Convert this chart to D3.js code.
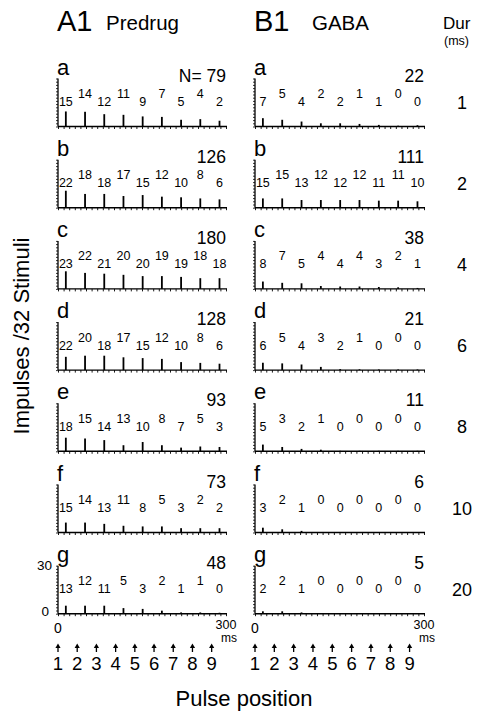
<!DOCTYPE html>
<html>
<head>
<meta charset="utf-8">
<script src="https://cdn.jsdelivr.net/npm/d3@7"></script>
<style>
  body { margin: 0; background: #fff; }
  svg { display: block; font-family: "Liberation Sans", Arial, sans-serif; }
</style>
</head>
<body>
<svg id="fig" width="479" height="715"></svg>
<script>
// chart values
var rowLetters = ["a", "b", "c", "d", "e", "f", "g"];
var durations = [1, 2, 4, 6, 8, 10, 20];
var pulseNumbers = [1, 2, 3, 4, 5, 6, 7, 8, 9];
var pulseInterval = 34.3; // ms between pulses
var latency = 14;         // ms, response peak after pulse

var predrugN = [79, 126, 180, 128, 93, 73, 48];
var gabaN = [22, 111, 38, 21, 11, 6, 5];

var predrugCounts = [
    [15, 14, 12, 11, 9, 7, 5, 4, 2],
    [22, 18, 18, 17, 15, 12, 10, 8, 6],
    [23, 22, 21, 20, 20, 19, 19, 18, 18],
    [22, 20, 18, 17, 15, 12, 10, 8, 6],
    [18, 15, 14, 13, 10, 8, 7, 5, 3],
    [15, 14, 13, 11, 8, 5, 3, 2, 2],
    [13, 12, 11, 5, 3, 2, 1, 1, 0]
];
var gabaCounts = [
    [7, 5, 4, 2, 2, 1, 1, 0, 0],
    [15, 15, 13, 12, 12, 12, 11, 11, 10],
    [8, 7, 5, 4, 4, 4, 3, 2, 1],
    [6, 5, 4, 3, 2, 1, 0, 0, 0],
    [5, 3, 2, 1, 0, 0, 0, 0, 0],
    [3, 2, 1, 0, 0, 0, 0, 0, 0],
    [2, 2, 1, 0, 0, 0, 0, 0, 0]
];

// peak bin height (impulses) of each PSTH response
var predrugPeaks = [
    [9.4, 9.2, 7.7, 7.3, 6.3, 6, 4.2, 4.6, 3.6],
    [10.6, 8.6, 8.6, 7.3, 7.9, 6.9, 6.5, 5.8, 5.2],
    [11, 10, 9.5, 8.8, 8, 8, 7.5, 6.7, 6.7],
    [8.3, 9, 9, 8, 7.5, 7, 5, 4.5, 4],
    [8.5, 8, 7, 3.8, 5.8, 3.8, 2.3, 3, 2.7],
    [6.2, 6.2, 5.4, 4.2, 3.8, 3.8, 2.7, 2.7, 2.7],
    [5, 5, 5, 3.5, 3, 1.9, 0.8, 0.8, 0.6]
];
var gabaPeaks = [
    [5.2, 4.2, 3.1, 2, 2, 1.6, 1, 0.5, 0.8],
    [5.8, 5.8, 4.8, 4.8, 4.8, 4.8, 4.4, 4.4, 4],
    [4.6, 3.8, 3.5, 1.8, 1.5, 1.5, 1.2, 1, 0.6],
    [4.6, 4.2, 3.5, 2, 0.6, 0.5, 0.4, 0.4, 0.4],
    [4.2, 2.7, 1.5, 1, 0.3, 0.3, 0.3, 0.3, 0.3],
    [3, 2, 1, 0.3, 0, 0, 0, 0, 0],
    [1.5, 1.5, 0.8, 0.3, 0, 0, 0, 0, 0]
];

var svg = d3.select("#fig");

var columns = [
    {x0: 58, x1: 226, counts: predrugCounts, peaks: predrugPeaks, N: predrugN, title: "A1", sub: "Predrug", subX: 106},
    {x0: 255, x1: 424, counts: gabaCounts, peaks: gabaPeaks, N: gabaN, title: "B1", sub: "GABA", subX: 312}
];

var firstAxisY = 126.5;
var rowStep = 81.2;

columns.forEach(function(col, ci) {
    var x = d3.scaleLinear().domain([0, 300]).range([col.x0, col.x1]);

    svg.append("text").attr("x", col.x0 - 1).attr("y", 31)
        .attr("font-size", 29).text(col.title);
    svg.append("text").attr("x", col.subX).attr("y", 30)
        .attr("font-size", 20.5).text(col.sub);

    rowLetters.forEach(function(letter, ri) {
        var axisY = firstAxisY + ri * rowStep;
        var y = d3.scaleLinear().domain([0, 30]).range([axisY, axisY - 48]);
        var g = svg.append("g");

        // x axis with 10 ms ticks below
        g.append("g")
            .attr("transform", "translate(0," + axisY + ")")
            .call(d3.axisBottom(x).tickValues(d3.range(0, 301, 10)).tickSize(2.5).tickFormat(""))
            .call(function(a) {
                a.select(".domain").attr("d", "M" + col.x0 + ",0H" + (col.x1 + 1)).attr("stroke-width", 1.4);
                a.selectAll(".tick line").attr("stroke-width", 0.9);
            });

        // y axis with dense minor ticks
        g.append("g")
            .attr("transform", "translate(" + col.x0 + ",0)")
            .call(d3.axisLeft(y).tickValues(d3.range(0, 31, 2)).tickSize(2).tickFormat(""))
            .call(function(a) {
                a.select(".domain").attr("d", "M0," + y(0) + "V" + y(30)).attr("stroke-width", 1.3);
                a.selectAll(".tick line").attr("stroke-width", 0.8);
            });

        // PSTH responses
        var peaks = col.peaks[ri];
        g.selectAll("rect.spike")
            .data(peaks)
            .enter()
            .append("rect")
            .attr("class", "spike")
            .attr("x", function(d, i) { return x(i * pulseInterval + latency) - 0.9; })
            .attr("y", function(d) { return y(d); })
            .attr("width", 1.8)
            .attr("height", function(d) { return y(0) - y(d); })
            .attr("fill", "#000");

        // impulse counts per pulse, alternating low/high
        g.selectAll("text.cnt")
            .data(col.counts[ri])
            .enter()
            .append("text")
            .attr("class", "cnt")
            .attr("x", function(d, i) { return x(i * pulseInterval + latency); })
            .attr("y", function(d, i) { return axisY - (i % 2 === 0 ? 20.5 : 28.5); })
            .attr("text-anchor", "middle")
            .attr("font-size", 12.5)
            .text(function(d) { return d; });

        // panel letter and total
        g.append("text").attr("x", col.x0 - 1).attr("y", axisY - 52)
            .attr("font-size", 22).text(letter);
        g.append("text").attr("x", col.x1).attr("y", axisY - 45)
            .attr("text-anchor", "end").attr("font-size", 17.5)
            .text((ci === 0 && ri === 0 ? "N= " : "") + col.N[ri]);

        if (ri === rowLetters.length - 1) {
            if (ci === 0) {
                g.append("text").attr("x", col.x0 - 6).attr("y", y(30) + 4.5)
                    .attr("text-anchor", "end").attr("font-size", 13.5).text("30");
                g.append("text").attr("x", col.x0 - 9).attr("y", y(0) + 2)
                    .attr("text-anchor", "end").attr("font-size", 13.5).text("0");
            }
            g.append("text").attr("x", x(0)).attr("y", axisY + 19)
                .attr("text-anchor", "middle").attr("font-size", 14).text("0");
            g.append("text").attr("x", x(300)).attr("y", axisY + 15)
                .attr("text-anchor", "middle").attr("font-size", 12.5).text("300");
            g.append("text").attr("x", x(300) + 3).attr("y", axisY + 28.5)
                .attr("text-anchor", "middle").attr("font-size", 12).text("ms");

            // pulse arrows
            var arrows = svg.append("g");
            pulseNumbers.forEach(function(n, i) {
                var px = x(i * pulseInterval);
                arrows.append("path")
                    .attr("d", "M" + px + ",643.5l-2.6,4.6h5.2z")
                    .attr("fill", "#000");
                arrows.append("line")
                    .attr("x1", px).attr("x2", px).attr("y1", 647).attr("y2", 652)
                    .attr("stroke", "#000").attr("stroke-width", 1.3);
                arrows.append("text").attr("x", px).attr("y", 670)
                    .attr("text-anchor", "middle").attr("font-size", 18.5).text(n);
            });
        }
    });
});

// durations column
svg.append("text").attr("x", 443).attr("y", 29).attr("font-size", 17).text("Dur");
svg.append("text").attr("x", 444).attr("y", 45).attr("font-size", 12.5).text("(ms)");
svg.selectAll("text.dur")
    .data(durations)
    .enter()
    .append("text")
    .attr("class", "dur")
    .attr("x", 462)
    .attr("y", function(d, i) { return firstAxisY + i * rowStep - 18; })
    .attr("text-anchor", "middle")
    .attr("font-size", 18)
    .text(function(d) { return d; });

// axis titles
svg.append("text")
    .attr("transform", "translate(29,336) rotate(-90)")
    .attr("text-anchor", "middle")
    .attr("font-size", 22)
    .text("Impulses /32 Stimuli");
svg.append("text")
    .attr("x", 244).attr("y", 706)
    .attr("text-anchor", "middle")
    .attr("font-size", 22)
    .text("Pulse position");
</script>
</body>
</html>
